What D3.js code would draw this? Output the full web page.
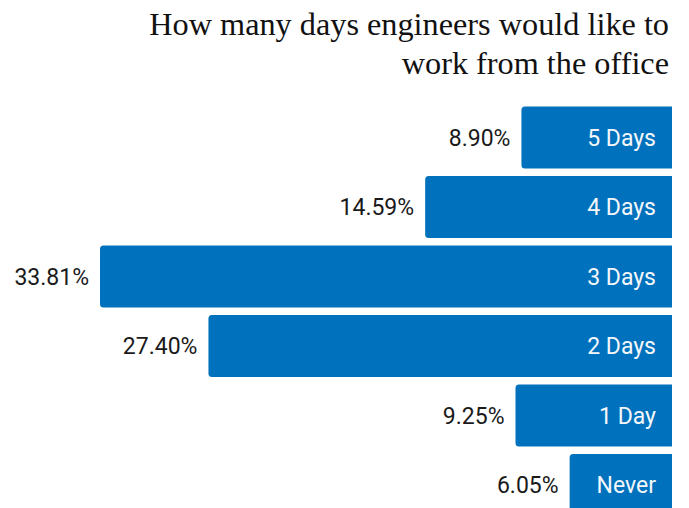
<!DOCTYPE html>
<html><head><meta charset="utf-8">
<script src="https://cdn.jsdelivr.net/npm/d3@7"></script>
<style>
html,body{margin:0;padding:0;background:#fff;}
svg{display:block;}
</style>
</head><body>
<svg id="chart" width="689" height="508"></svg>
<script>
const categories = ["5 Days", "4 Days", "3 Days", "2 Days", "1 Day", "Never"];
const values = [8.90, 14.59, 33.81, 27.40, 9.25, 6.05];
const valueLabels = ["8.90%", "14.59%", "33.81%", "27.40%", "9.25%", "6.05%"];
const titleLines = ["How many days engineers would like to", "work from the office"];

const W = 689, H = 508;
const svg = d3.select("#chart");
const right = 672;

const x = d3.scaleLinear().domain([0, d3.max(values)]).range([0, 572]);
const y = d3.scaleBand().domain(categories).range([99, 523.5]).padding(0.108);

// title
const title = svg.append("g");
const tFont = "'Liberation Serif', 'DejaVu Serif', serif";
const t1 = title.append("text").attr("x", 669).attr("y", 35).attr("text-anchor", "end")
  .attr("font-family", tFont).attr("font-size", 30).attr("fill", "#111").text(titleLines[0]);
const w1 = t1.node().getComputedTextLength();
const fs = 30 * 520 / w1;
t1.attr("font-size", fs);
title.append("text").attr("x", 669).attr("y", 74).attr("text-anchor", "end")
  .attr("font-family", tFont).attr("font-size", fs).attr("fill", "#111").text(titleLines[1]);

const r = 3.5;
function barPath(x0, y0, x1, y1) {
  return `M${x1},${y0} L${x0 + r},${y0} Q${x0},${y0} ${x0},${y0 + r} L${x0},${y1 - r} Q${x0},${y1} ${x0 + r},${y1} L${x1},${y1} Z`;
}

const g = svg.append("g");
const rows = g.selectAll("g.row").data(categories).join("g").attr("class", "row");
rows.append("path")
  .attr("d", (d, i) => barPath(right - x(values[i]), y(d), right, y(d) + y.bandwidth()))
  .attr("fill", "#0071bc");
const lf = "Roboto, 'Open Sans', sans-serif";
rows.append("text")
  .attr("x", 656).attr("y", d => y(d) + y.bandwidth() / 2).attr("dy", "0.36em")
  .attr("text-anchor", "end").attr("font-family", lf).attr("font-size", 23)
  .attr("fill", "#f4f7fb").text(d => d);
rows.append("text")
  .attr("x", (d, i) => right - x(values[i]) - 11).attr("y", d => y(d) + y.bandwidth() / 2).attr("dy", "0.36em")
  .attr("text-anchor", "end").attr("font-family", lf).attr("font-size", 23)
  .attr("fill", "#1a1a1a").text((d, i) => valueLabels[i]);
</script>
</body></html>
